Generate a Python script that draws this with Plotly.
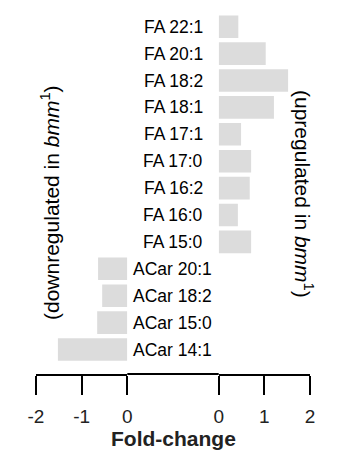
import plotly.graph_objects as go

# ---- data ----
acar_labels = ["ACar 14:1", "ACar 15:0", "ACar 18:2", "ACar 20:1"]
acar_values = [-1.52, -0.66, -0.55, -0.64]
fa_labels = ["FA 15:0", "FA 16:0", "FA 16:2", "FA 17:0", "FA 17:1",
             "FA 18:1", "FA 18:2", "FA 20:1", "FA 22:1"]
fa_values = [0.71, 0.42, 0.68, 0.71, 0.49, 1.21, 1.52, 1.03, 0.43]
left_ticks = [-2, -1, 0]
right_ticks = [0, 1, 2]

W, H = 352, 454
PLOT_H = 374  # plot-area height in px (axis line position)

acar_y = list(range(len(acar_labels)))
fa_y = list(range(len(acar_labels), len(acar_labels) + len(fa_labels)))

FONT = "Liberation Sans, Arial, Helvetica, sans-serif"
BAR_COLOR = "#dcdcdc"

fig = go.Figure()
fig.add_trace(go.Bar(x=acar_values, y=acar_y, orientation="h", width=0.84,
                     marker=dict(color=BAR_COLOR, line=dict(width=0)),
                     xaxis="x", yaxis="y", hoverinfo="skip"))
fig.add_trace(go.Bar(x=fa_values, y=fa_y, orientation="h", width=0.84,
                     marker=dict(color=BAR_COLOR, line=dict(width=0)),
                     xaxis="x2", yaxis="y", hoverinfo="skip"))

axis_common = dict(showgrid=False, zeroline=False, showline=True,
                   linecolor="black", linewidth=2, ticks="outside",
                   ticklen=19, tickwidth=2, tickcolor="black",
                   tickfont=dict(family=FONT, size=19, color="#222"),
                   ticklabelstandoff=5, fixedrange=True, automargin=False)

fig.update_layout(
    width=W, height=H,
    margin=dict(l=0, r=0, t=0, b=H - PLOT_H, pad=0, autoexpand=False),
    paper_bgcolor="white", plot_bgcolor="white",
    showlegend=False,
    xaxis=dict(domain=[36 / W, 127.3 / W], range=[-2, 0],
               tickvals=left_ticks, ticktext=[str(t) for t in left_ticks],
               anchor="y", **axis_common),
    xaxis2=dict(domain=[218.7 / W, 310 / W], range=[0, 2],
                tickvals=right_ticks, ticktext=[str(t) for t in right_ticks],
                anchor="y", **axis_common),
    yaxis=dict(range=[-0.911, 12.993], visible=False, fixedrange=True,
               automargin=False),
)

# connector of the axis line across the gap
fig.add_shape(type="line", xref="paper", yref="paper",
              x0=127.3 / W, x1=218.7 / W, y0=0, y1=0,
              line=dict(color="black", width=2))

annotations = []
for lab, y in zip(acar_labels, acar_y):
    annotations.append(dict(text=lab, x=130.5 / W, xref="paper", y=y, yref="y",
                            xanchor="left", yanchor="middle", showarrow=False,
                            font=dict(family=FONT, size=17.5, color="black")))
for lab, y in zip(fa_labels, fa_y):
    annotations.append(dict(text=lab, x=204.5 / W, xref="paper", y=y, yref="y",
                            xanchor="right", yanchor="middle", showarrow=False,
                            font=dict(family=FONT, size=17.5, color="black")))

annotations.append(dict(text="<b>Fold-change</b>", x=173 / W, xref="paper",
                        y=(PLOT_H - 438) / PLOT_H, yref="paper",
                        xanchor="center", yanchor="middle", showarrow=False,
                        font=dict(family=FONT, size=21, color="#222")))
annotations.append(dict(text="(downregulated in <i>bmm</i><sup>1</sup>)",
                        x=50 / W, xref="paper", y=(PLOT_H - 203) / PLOT_H,
                        yref="paper", textangle=-90, xanchor="center",
                        yanchor="middle", showarrow=False,
                        font=dict(family=FONT, size=21, color="black")))
annotations.append(dict(text="(upregulated in <i>bmm</i><sup>1</sup>)",
                        x=304 / W, xref="paper", y=(PLOT_H - 194) / PLOT_H,
                        yref="paper", textangle=90, xanchor="center",
                        yanchor="middle", showarrow=False,
                        font=dict(family=FONT, size=21, color="black")))
fig.update_layout(annotations=annotations)

fig.write_html("out.html", config={"displayModeBar": False})
